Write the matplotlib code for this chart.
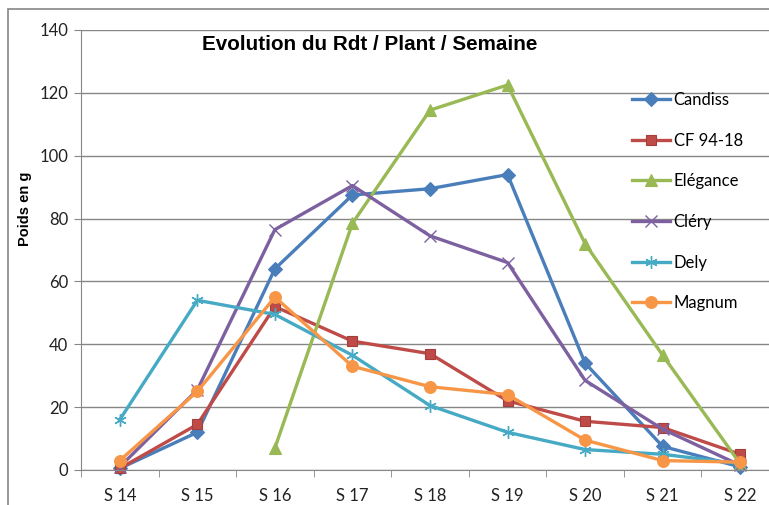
import numpy as np
import matplotlib
matplotlib.use("Agg")
import matplotlib.pyplot as plt
from matplotlib.patches import Rectangle

semaines = ["S 14", "S 15", "S 16", "S 17", "S 18", "S 19", "S 20", "S 21", "S 22"]

candiss = [0.5, 12, 64, 87.5, 89.5, 94, 34, 7.5, 1]
cf9418 = [0.5, 14.5, 52, 41, 37, 22, 15.5, 13.5, 5]
elegance = [np.nan, np.nan, 7, 78.5, 114.5, 122.5, 72, 36.5, 2]
clery = [1, 25.5, 76.5, 90.5, 74.5, 66, 28.5, 13, 1.5]
dely = [16, 54, 49.5, 36.5, 20.5, 12, 6.5, 5, 2]
magnum = [3, 25, 55, 33, 26.5, 24, 9.5, 3, 2.5]

series = [
    ("Candiss", candiss, "#4A7EBB", "D", 7, "#4A7EBB"),
    ("CF 94-18", cf9418, "#BE4B48", "s", 7.5, "#A33E3B"),
    ("Elégance", elegance, "#98B954", "^", 8, "#98B954"),
    ("Cléry", clery, "#7D60A0", "x", 8, "#7D60A0"),
    ("Dely", dely, "#46AAC5", (6, 2, 0), 9, "#46AAC5"),
    ("Magnum", magnum, "#F79646", "o", 8.5, "#F79646"),
]

W, H = 769, 505
fig = plt.figure(figsize=(W / 100, H / 100), dpi=100)

# cadre du graphique
fig.patches.append(Rectangle((8 / W, -0.1), 2, (H - 9) / H + 0.1, transform=fig.transFigure,
                             fill=False, edgecolor="#868686", linewidth=1.2))

x0, x1 = 81, 779
y0, y1 = 470, 30
ax = fig.add_axes([x0 / W, (H - y0) / H, (x1 - x0) / W, (y0 - y1) / H])

x = np.arange(len(semaines))
for nom, vals, col, mk, ms, mec in series:
    thin = mk in ("x", (6, 2, 0))
    ax.plot(x, vals, color=col, linewidth=2.4, marker=mk, markersize=ms,
            markerfacecolor=col, markeredgecolor=mec,
            markeredgewidth=1.0 if thin else 0.8, label=nom, clip_on=False)

ax.set_xlim(-0.5, len(semaines) - 0.5)
ax.set_ylim(0, 140)
ax.set_yticks(range(0, 141, 20))
ax.set_xticks(x)
ax.set_xticklabels(semaines)
ax.set_xticks(np.arange(-0.5, len(semaines), 1), minor=True)
ax.tick_params(axis="x", which="major", length=0, pad=13)
ax.tick_params(axis="x", which="minor", length=5, color="#868686")
ax.tick_params(axis="y", length=5, color="#868686", pad=4)
for lab in ax.get_xticklabels() + ax.get_yticklabels():
    lab.set_fontfamily("Lato")
    lab.set_fontsize(12)
    lab.set_color("#222222")

ax.grid(axis="y", color="#868686", linewidth=1)
ax.set_axisbelow(True)
for s in ["top", "right"]:
    ax.spines[s].set_visible(False)
ax.spines["left"].set_color("#868686")
ax.spines["bottom"].set_color("#868686")

fig.text(25 / W, 1 - 209 / H, "Poids en g", rotation=90, ha="center", va="center",
         fontsize=10.5, fontweight="bold", family="Liberation Sans")
fig.text(370 / W, 1 - 45 / H, "Evolution du Rdt / Plant / Semaine", ha="center", va="center",
         fontsize=14.9, fontweight="bold", family="Liberation Sans")

leg = fig.legend(loc="upper left", bbox_to_anchor=(632 / W, 1 - 92 / H), frameon=False,
                 prop={"family": "Lato", "size": 12}, handlelength=2.3, handletextpad=0.2,
                 labelspacing=1.48, borderaxespad=0, borderpad=0)

fig.savefig("out.png", dpi=100)
